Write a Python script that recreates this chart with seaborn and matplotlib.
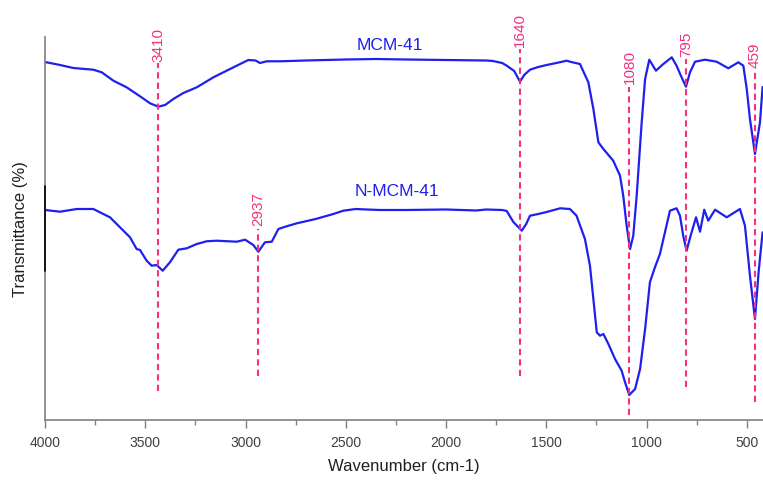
import numpy as np
import pandas as pd
import matplotlib
matplotlib.use("Agg")
import matplotlib.pyplot as plt
import seaborn as sns
from matplotlib.ticker import MultipleLocator

# ---- data (wavenumber in cm-1, transmittance in arbitrary units) ----
mcm_wn = [4000, 3925, 3859, 3759, 3717, 3659, 3593, 3526, 3476, 3435, 3401, 3360, 3310,
          3243, 3160, 3077, 2986, 2950, 2928, 2894, 2828, 2700, 2500, 2350, 2200, 2000,
          1800, 1766, 1720, 1697, 1660, 1631, 1610, 1581, 1540, 1498, 1450, 1398, 1382,
          1332, 1290, 1265, 1240, 1215, 1166, 1132, 1116, 1099, 1082, 1066, 1049, 1024,
          1007, 986, 953, 916, 874, 850, 825, 803, 783, 758, 708, 650, 592, 542, 517,
          500, 484, 459, 434, 421]
mcm_py = [63, 66, 69, 70.7, 73.3, 81.7, 88.3, 97.3, 104.3, 107.7, 106, 100, 94,
          88.3, 78.3, 70, 61, 61.5, 64, 62.3, 62.3, 61.5, 60.5, 60, 60.5, 61,
          61.5, 62, 64, 66.7, 72, 82.7, 76, 70.7, 68, 66, 64, 61.7, 62.7,
          65, 83.3, 110, 143.3, 150, 161.7, 176.7, 196.7, 226.7, 250, 236.7, 196.7, 123.3,
          80, 60.7, 71.7, 65, 58.3, 66.7, 78.3, 87.7, 73.3, 62.7, 60.7, 62.7, 69.3, 63.3, 66.7,
          90, 120, 155, 123.3, 88]
mcm_T = [421 - v for v in mcm_py]

nmcm_wn = [4000, 3925, 3842, 3759, 3726, 3676, 3626, 3576, 3543, 3526, 3493, 3468, 3443,
           3413, 3377, 3335, 3293, 3243, 3194, 3144, 3044, 3002, 2961, 2936, 2903, 2869,
           2836, 2795, 2744, 2650, 2562, 2512, 2450, 2396, 2329, 2200, 2000, 1850, 1800,
           1720, 1697, 1664, 1622, 1600, 1581, 1540, 1498, 1431, 1382, 1349, 1307, 1282,
           1265, 1248, 1232, 1215, 1190, 1157, 1124, 1107, 1086, 1057, 1032, 1007, 983,
           958, 933, 908, 883, 850, 833, 817, 800, 780, 753, 733, 712, 692, 658, 600,
           534, 509, 484, 459, 441, 421]
nmcm_py = [211, 212.7, 210, 210, 213.3, 218.3, 228.3, 238.3, 250, 251, 261.7, 266.7, 266,
           271.7, 263.3, 250.7, 249.3, 245, 242.3, 241.7, 242.7, 240.7, 246, 252.7, 243.3, 242.7,
           230, 227.3, 224.3, 220, 215, 211.7, 210, 210.5, 211, 211, 210.5, 211.5, 210.5,
           211, 212, 223, 231.7, 225, 216.7, 215, 213, 209.3, 210, 216.7, 240, 266.7,
           300, 333.3, 336.7, 335, 345, 360, 371.7, 383.3, 396, 390, 370, 330, 283.3,
           268.3, 255, 233.3, 211.7, 209.3, 216.7, 236.7, 251.7, 236.7, 218.3, 232.7, 210.7, 221.7, 210.7, 218.3,
           210, 226.7, 276.7, 320, 273.3, 233.3]
nmcm_T = [421 - v for v in nmcm_py]

peak_labels = ["3410", "2937", "1640", "1080", "795", "459"]
peak_line_x = [3436, 2937, 1631, 1085, 802, 459]
peak_label_top = [393, 229, 408, 371, 389, 379]
peak_line_top = [357, 191, 371, 333, 361, 349]
peak_line_bottom = [29, 44, 44, 5, 33, 18]

series_names = ["MCM-41", "N-MCM-41"]
series_label_pos = [(2279, 376), (2244, 229)]

# ---- plotting ----
sns.set_theme(style="white")
plt.rcParams['font.family'] = ['Liberation Sans', 'DejaVu Sans']

blue = '#1f1fef'
pink = '#f5307f'

fig = plt.figure(figsize=(7.63, 4.81), dpi=100)
ax = fig.add_axes([45 / 763, 60 / 481, 718 / 763, 383 / 481])

df1 = pd.DataFrame({"wn": mcm_wn, "T": mcm_T})
df2 = pd.DataFrame({"wn": nmcm_wn, "T": nmcm_T})
sns.lineplot(data=df1, x="wn", y="T", ax=ax, color=blue, lw=1.6, estimator=None)
sns.lineplot(data=df2, x="wn", y="T", ax=ax, color=blue, lw=1.6, estimator=None)

for lab, x, ltop, top, bot in zip(peak_labels, peak_line_x, peak_label_top,
                                  peak_line_top, peak_line_bottom):
    ax.plot([x, x], [bot, top], color=pink, lw=1.5, ls=(0, (3, 2)), clip_on=False)
    ax.text(x, ltop, lab, rotation=90, ha='center', va='top', color=pink,
            fontsize=11, clip_on=False)

for name, (x, y) in zip(series_names, series_label_pos):
    ax.text(x, y, name, ha='center', va='center', color=blue, fontsize=12.5)

ax.set_xlim(4000, 4000 - 718 / 0.2005)
ax.set_ylim(0, 383)
ax.xaxis.set_major_locator(MultipleLocator(500))
ax.xaxis.set_minor_locator(MultipleLocator(250))
ax.set_yticks([])
ax.tick_params(axis='x', which='major', direction='out', length=6, width=1,
               color='#808080', labelsize=10, labelcolor='#404040', pad=5, bottom=True)
ax.tick_params(axis='x', which='minor', direction='out', length=3.5, width=1,
               color='#808080', bottom=True)
for s in ['top', 'right']:
    ax.spines[s].set_visible(False)
for s in ['left', 'bottom']:
    ax.spines[s].set_color('#808080')
    ax.spines[s].set_linewidth(1.2)
# darker segment on the left axis line, as in the source image
ax.axvline(4000, ymin=149 / 383, ymax=234 / 383, color='#000000', lw=1.2,
           clip_on=False, zorder=10)

ax.set_xlabel("Wavenumber (cm-1)", fontsize=12, color='#202020', labelpad=6)
ax.set_ylabel("Transmittance (%)", fontsize=12, color='#202020', labelpad=12)

fig.savefig("out.png", dpi=100)
